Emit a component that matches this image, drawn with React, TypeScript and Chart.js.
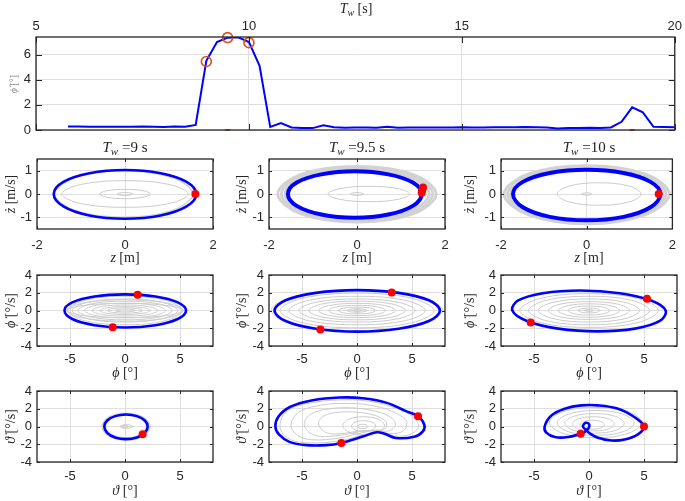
import React, { useEffect, useRef } from "react";
import { Chart, registerables } from "chart.js";
Chart.register(...registerables);

type P = [number, number];

// ---------- top panel: amplitude vs wave period ----------
const twValues = [5.75, 6, 6.25, 6.5, 6.75, 7, 7.25, 7.5, 7.75, 8, 8.25, 8.5, 8.75, 9, 9.25, 9.5, 9.75, 10, 10.25, 10.5, 10.75, 11, 11.25, 11.5, 11.75, 12, 12.25, 12.5, 12.75, 13, 13.25, 13.5, 13.75, 14, 14.25, 14.5, 14.75, 15, 15.25, 15.5, 15.75, 16, 16.25, 16.5, 16.75, 17, 17.25, 17.5, 17.75, 18, 18.25, 18.5, 18.75, 19, 19.25, 19.5, 19.75, 20];
const phiAmp = [0.28, 0.28, 0.26, 0.25, 0.25, 0.26, 0.26, 0.27, 0.25, 0.24, 0.27, 0.25, 0.4, 5.5, 7.0, 7.35, 7.38, 7.0, 5.1, 0.25, 0.55, 0.2, 0.15, 0.15, 0.38, 0.22, 0.18, 0.2, 0.2, 0.18, 0.25, 0.18, 0.2, 0.2, 0.2, 0.2, 0.2, 0.22, 0.2, 0.2, 0.22, 0.22, 0.22, 0.23, 0.22, 0.2, 0.12, 0.15, 0.16, 0.17, 0.16, 0.2, 0.65, 1.8, 1.4, 0.25, 0.23, 0.22];
const markedTw: P[] = [[9, 5.45], [9.5, 7.35], [10, 6.95]];
const redTicksTw: P[] = [[9.5, 0], [19, 0]];
const topXTicks = [5, 10, 15, 20];
const topYTicks = [0, 2, 4, 6];

// ---------- row 1: heave z / z-dot ----------
const zXTicks = [-2, 0, 2];
const zYTicks = [-1, 0, 1];
const z9Blue: P[] = [[1.62, 0], [1.4, 0.52], [0.81, 0.89], [0, 1.03], [-0.81, 0.89], [-1.4, 0.52], [-1.62, 0], [-1.4, -0.53], [-0.81, -0.92], [0, -1.06], [0.81, -0.92], [1.4, -0.53]];
const z9Red: P[] = [[1.6, 0]];
const z9Band: P[][] = [
  [[1.54, 0], [1.08, 0.71], [-0.03, 1.0], [-1.14, 0.71], [-1.6, 0], [-1.14, -0.71], [-0.03, -1.0], [1.08, -0.71]],
];
const z9Gray: P[][] = [
  [[1.44, 0], [1.02, 0.4], [0, 0.57], [-1.02, 0.4], [-1.44, 0], [-1.02, -0.4], [0, -0.57], [1.02, -0.4]],
  [[0.58, 0], [0.41, 0.14], [0, 0.2], [-0.41, 0.14], [-0.58, 0], [-0.41, -0.14], [0, -0.2], [0.41, -0.14]],
  [[0.18, 0], [0.13, 0.04], [0, 0.06], [-0.13, 0.04], [-0.18, 0], [-0.13, -0.04], [0, -0.06], [0.13, -0.04]],
];
const z95Blue: P[] = [[1.47, 0], [1.27, 0.49], [0.71, 0.84], [-0.05, 0.97], [-0.81, 0.84], [-1.37, 0.49], [-1.57, 0], [-1.37, -0.51], [-0.81, -0.88], [-0.05, -1.02], [0.71, -0.88], [1.27, -0.51]];
const z95Red: P[] = [[1.5, 0.28], [1.48, 0.15], [1.47, 0.05]];
const z95Band: P[][] = [
  [[1.8, 0], [1.27, 0.84], [0, 1.18], [-1.27, 0.84], [-1.8, 0], [-1.27, -0.85], [0, -1.2], [1.27, -0.85]],
  [[1.72, 0], [1.22, 0.8], [0, 1.12], [-1.22, 0.8], [-1.72, 0], [-1.22, -0.81], [0, -1.14], [1.22, -0.81]],
  [[1.64, 0], [1.16, 0.75], [0, 1.06], [-1.16, 0.75], [-1.64, 0], [-1.16, -0.76], [0, -1.08], [1.16, -0.76]],
];
const z95Gray: P[][] = [
  [[1.2, 0], [0.93, 0.23], [0.27, 0.33], [-0.39, 0.23], [-0.66, 0], [-0.39, -0.23], [0.27, -0.33], [0.93, -0.23]],
  [[0.15, 0], [0.1, 0.04], [0, 0.06], [-0.1, 0.04], [-0.15, 0], [-0.1, -0.04], [0, -0.06], [0.1, -0.04]],
];
const z10Blue: P[] = [[1.72, 0], [1.49, 0.52], [0.86, 0.9], [0, 1.04], [-0.86, 0.9], [-1.49, 0.52], [-1.72, 0], [-1.49, -0.57], [-0.86, -0.98], [0, -1.13], [0.86, -0.98], [1.49, -0.57]];
const z10Red: P[] = [[1.68, 0]];
const z10Band: P[][] = [
  [[1.93, 0], [1.36, 0.86], [0, 1.22], [-1.36, 0.86], [-1.93, 0], [-1.36, -0.9], [0, -1.28], [1.36, -0.9]],
  [[1.85, 0], [1.31, 0.81], [0, 1.15], [-1.31, 0.81], [-1.85, 0], [-1.31, -0.85], [0, -1.2], [1.31, -0.85]],
  [[1.78, 0], [1.26, 0.76], [0, 1.08], [-1.26, 0.76], [-1.78, 0], [-1.26, -0.8], [0, -1.16], [1.26, -0.8]],
];
const z10Gray: P[][] = [
  [[1.27, 0], [0.99, 0.34], [0.29, 0.48], [-0.41, 0.34], [-0.69, 0], [-0.41, -0.34], [0.29, -0.48], [0.99, -0.34]],
  [[0.13, 0], [0.09, 0.035], [0, 0.05], [-0.09, 0.035], [-0.13, 0], [-0.09, -0.035], [0, -0.05], [0.09, -0.035]],
];

// ---------- rows 2-3 ticks ----------
const angXTicks = [-5, 0, 5];
const angYTicks = [-4, -2, 0, 2, 4];

// ---------- row 2: roll phi / phi-dot ----------
const p9Blue: P[] = [[5.55, 0], [4.79, 0.91], [2.77, 1.58], [0, 1.82], [-2.77, 1.58], [-4.79, 0.91], [-5.5, 0], [-4.79, -0.96], [-2.77, -1.66], [0, -1.92], [2.77, -1.66], [4.79, -0.96]];
const p9Red: P[] = [[1.15, 1.78], [-1.12, -1.88]];
const p9Gray: P[][] = [
  [[5.2, 0], [3.69, 1.14], [0, 1.6], [-3.69, 1.14], [-5.2, 0], [-3.69, -1.14], [0, -1.6], [3.69, -1.14]],
  [[5.3, 0], [3.76, 0.85], [0, 1.2], [-3.76, 0.85], [-5.3, 0], [-3.76, -0.85], [0, -1.2], [3.76, -0.85]],
  [[4.8, 0], [3.41, 0.92], [0, 1.3], [-3.41, 0.92], [-4.8, 0], [-3.41, -0.92], [0, -1.3], [3.41, -0.92]],
  [[5.3, 0], [3.76, 0.57], [0, 0.8], [-3.76, 0.57], [-5.3, 0], [-3.76, -0.57], [0, -0.8], [3.76, -0.57]],
  [[4.3, 0], [3.05, 0.75], [0, 1.05], [-3.05, 0.75], [-4.3, 0], [-3.05, -0.75], [0, -1.05], [3.05, -0.75]],
  [[3.7, 0], [2.63, 0.58], [0, 0.82], [-2.63, 0.58], [-3.7, 0], [-2.63, -0.58], [0, -0.82], [2.63, -0.58]],
  [[3.0, 0], [2.13, 0.44], [0, 0.62], [-2.13, 0.44], [-3.0, 0], [-2.13, -0.44], [0, -0.62], [2.13, -0.44]],
  [[2.3, 0], [1.63, 0.31], [0, 0.44], [-1.63, 0.31], [-2.3, 0], [-1.63, -0.31], [0, -0.44], [1.63, -0.31]],
  [[1.6, 0], [1.14, 0.21], [0, 0.3], [-1.14, 0.21], [-1.6, 0], [-1.14, -0.21], [0, -0.3], [1.14, -0.21]],
  [[0.9, 0], [0.64, 0.11], [0, 0.16], [-0.64, 0.11], [-0.9, 0], [-0.64, -0.11], [0, -0.16], [0.64, -0.11]],
];
const p95Blue: P[] = [[7.54, 0], [6.53, 1.15], [3.78, 1.99], [0.02, 2.3], [-3.74, 1.99], [-6.49, 1.15], [-7.5, 0], [-6.49, -1.19], [-3.74, -2.06], [0.02, -2.38], [3.78, -2.06], [6.53, -1.19]];
const p95Red: P[] = [[3.15, 2.04], [-3.33, -2.15]];
const p95Gray: P[][] = [
  [[7.8, 0], [5.54, 1.63], [0, 2.3], [-5.54, 1.63], [-7.8, 0], [-5.54, -1.66], [0, -2.35], [5.54, -1.66]],
  [[7.0, 0], [4.97, 1.38], [0, 1.95], [-4.97, 1.38], [-7.0, 0], [-4.97, -1.38], [0, -1.95], [4.97, -1.38]],
  [[6.2, 0], [4.4, 1.14], [0, 1.6], [-4.4, 1.14], [-6.2, 0], [-4.4, -1.14], [0, -1.6], [4.4, -1.14]],
  [[5.3, 0], [3.76, 0.92], [0, 1.3], [-3.76, 0.92], [-5.3, 0], [-3.76, -0.92], [0, -1.3], [3.76, -0.92]],
  [[4.4, 0], [3.12, 0.75], [0, 1.05], [-3.12, 0.75], [-4.4, 0], [-3.12, -0.75], [0, -1.05], [3.12, -0.75]],
  [[3.5, 0], [2.49, 0.57], [0, 0.8], [-2.49, 0.57], [-3.5, 0], [-2.49, -0.57], [0, -0.8], [2.49, -0.57]],
  [[2.6, 0], [1.85, 0.41], [0, 0.58], [-1.85, 0.41], [-2.6, 0], [-1.85, -0.41], [0, -0.58], [1.85, -0.41]],
  [[1.7, 0], [1.21, 0.27], [0, 0.38], [-1.21, 0.27], [-1.7, 0], [-1.21, -0.27], [0, -0.38], [1.21, -0.27]],
  [[0.9, 0], [0.64, 0.14], [0, 0.2], [-0.64, 0.14], [-0.9, 0], [-0.64, -0.14], [0, -0.2], [0.64, -0.14]],
  [[0.4, 0], [0.28, 0.07], [0, 0.1], [-0.28, 0.07], [-0.4, 0], [-0.28, -0.07], [0, -0.1], [0.28, -0.07]],
];
const p10Blue: P[] = [[6.97, 0], [5.64, 1.13], [2.8, 1.95], [-0.8, 2.25], [-4.18, 1.95], [-6.44, 1.13], [-6.97, 0], [-5.64, -1.18], [-2.8, -2.04], [0.8, -2.35], [4.18, -2.04], [6.44, -1.18]];
const p10Red: P[] = [[5.27, 1.31], [-5.3, -1.35]];
const p10Gray: P[][] = [
  [[6.3, 0], [4.47, 1.35], [0, 1.9], [-4.47, 1.35], [-6.3, 0], [-4.47, -1.35], [0, -1.9], [4.47, -1.35]],
  [[5.5, 0], [3.9, 1.14], [0, 1.6], [-3.9, 1.14], [-5.5, 0], [-3.9, -1.14], [0, -1.6], [3.9, -1.14]],
  [[4.6, 0], [3.27, 0.92], [0, 1.3], [-3.27, 0.92], [-4.6, 0], [-3.27, -0.92], [0, -1.3], [3.27, -0.92]],
  [[3.7, 0], [2.63, 0.71], [0, 1.0], [-2.63, 0.71], [-3.7, 0], [-2.63, -0.71], [0, -1.0], [2.63, -0.71]],
  [[2.8, 0], [1.99, 0.53], [0, 0.75], [-1.99, 0.53], [-2.8, 0], [-1.99, -0.53], [0, -0.75], [1.99, -0.53]],
  [[1.9, 0], [1.35, 0.36], [0, 0.5], [-1.35, 0.36], [-1.9, 0], [-1.35, -0.36], [0, -0.5], [1.35, -0.36]],
  [[1.0, 0], [0.71, 0.19], [0, 0.27], [-0.71, 0.19], [-1.0, 0], [-0.71, -0.19], [0, -0.27], [0.71, -0.19]],
  [[0.4, 0], [0.28, 0.07], [0, 0.1], [-0.28, 0.07], [-0.4, 0], [-0.28, -0.07], [0, -0.1], [0.28, -0.07]],
];

// ---------- row 3: pitch theta / theta-dot ----------
const t9Blue: P[] = [[2.06, 0], [1.8, 0.68], [1.08, 1.17], [0.09, 1.35], [-0.9, 1.17], [-1.62, 0.68], [-1.88, 0], [-1.62, -0.71], [-0.9, -1.23], [0.09, -1.42], [1.08, -1.23], [1.8, -0.71]];
const t9Red: P[] = [[1.6, -0.88]];
const t9Band: P[][] = [
  [[2.22, 0], [1.6, 1.02], [0.09, 1.45], [-1.42, 1.02], [-2.04, 0], [-1.42, -1.04], [0.09, -1.5], [1.6, -1.04]],
];
const t9Gray: P[][] = [
  [[1.94, 0], [1.4, 0.89], [0.09, 1.25], [-1.22, 0.89], [-1.76, 0], [-1.22, -0.89], [0.09, -1.25], [1.4, -0.89]],
  [[0.7, 0], [0.53, 0.14], [0.12, 0.2], [-0.29, 0.14], [-0.46, 0], [-0.29, -0.14], [0.12, -0.2], [0.53, -0.14]],
  [[0.3, 0], [0.21, 0.07], [0, 0.1], [-0.21, 0.07], [-0.3, 0], [-0.21, -0.07], [0, -0.1], [0.21, -0.07]],
];
const t95Blue: P[] = [[-7.42, 0], [-7.15, 1.1], [-6.1, 2.2], [-4.03, 2.96], [-1.6, 3.27], [0.52, 3.19], [2.64, 2.69], [4.45, 1.73], [5.55, 1.15], [6.12, 0.19], [5.97, -0.58], [5.2, -1.15], [3.55, -1.3], [2.5, -0.82], [1.8, -0.65], [0.6, -1.1], [-1.42, -1.85], [-2.8, -2.1], [-4.6, -2.1], [-6.15, -1.73], [-7.1, -0.9]];
const t95Red: P[] = [[5.55, 1.15], [-1.42, -1.85]];
const t95Gray: P[][] = [
  [[-7.0, 0.1], [-6.3, 1.8], [-4.0, 2.7], [-1.5, 3.0], [0.8, 2.9], [3.0, 2.3], [5.0, 1.2], [5.6, 0.0], [4.8, -0.9], [3.4, -1.05], [2.2, -0.55], [0.5, -0.95], [-1.5, -1.6], [-4.5, -1.85], [-6.3, -1.3]],
  [[-6.0, 0.2], [-5.3, 1.6], [-3.3, 2.4], [-1.0, 2.6], [1.2, 2.4], [3.2, 1.7], [4.5, 0.6], [4.2, -0.5], [3.0, -0.8], [1.9, -0.45], [0.3, -0.75], [-1.6, -1.3], [-4.0, -1.5], [-5.4, -1.0]],
  [[-4.8, 0.3], [-4.2, 1.4], [-2.5, 2.0], [-0.5, 2.1], [1.4, 1.8], [3.0, 1.1], [3.5, 0.2], [2.9, -0.5], [1.7, -0.4], [0.2, -0.6], [-1.6, -1.0], [-3.4, -1.1], [-4.4, -0.6]],
  [[-3.5, 0.3], [-3.0, 1.2], [-1.7, 1.6], [0, 1.6], [1.5, 1.3], [2.6, 0.6], [2.6, -0.2], [1.6, -0.45], [0.2, -0.5], [-1.4, -0.8], [-2.8, -0.7]],
  [[2.5, 0.1], [1.95, 0.81], [0.6, 1.1], [-0.75, 0.81], [-1.3, 0.1], [-0.75, -0.61], [0.6, -0.9], [1.95, -0.61]],
  [[1.7, 0.05], [1.38, 0.48], [0.6, 0.65], [-0.18, 0.48], [-0.5, 0.05], [-0.18, -0.38], [0.6, -0.55], [1.38, -0.38]],
  [[0.95, 0], [0.82, 0.18], [0.5, 0.25], [0.18, 0.18], [0.05, 0], [0.18, -0.18], [0.5, -0.25], [0.82, -0.18]],
];
const t10Blue: P[] = [[-4.03, 0], [-3.42, 1.23], [-2.21, 2.0], [-0.7, 2.38], [0.82, 2.38], [2.64, 2.0], [4.15, 1.04], [5.0, 0], [4.45, -0.88], [3.24, -1.46], [2.03, -1.58], [0.82, -1.27], [0.1, -0.8], [-0.24, -0.42], [-0.55, 0.0], [-0.3, 0.42], [0.03, 0.2], [-0.05, -0.2], [-0.24, -0.42], [-0.45, -0.68], [-0.76, -0.81], [-1.9, -1.19], [-3.1, -1.19], [-3.88, -0.69]];
const t10Red: P[] = [[5.0, 0], [-0.76, -0.81]];
const t10Gray: P[][] = [
  [[4.8, 0.45], [3.58, 1.66], [0.6, 2.15], [-2.38, 1.66], [-3.6, 0.45], [-2.38, -0.76], [0.6, -1.25], [3.58, -0.76]],
  [[4.1, 0.4], [3.09, 1.39], [0.6, 1.8], [-1.89, 1.39], [-2.9, 0.4], [-1.89, -0.59], [0.6, -1.0], [3.09, -0.59]],
  [[3.2, 0.35], [2.42, 1.13], [0.5, 1.45], [-1.42, 1.13], [-2.2, 0.35], [-1.42, -0.43], [0.5, -0.75], [2.42, -0.43]],
  [[2.3, 0.3], [1.75, 0.87], [0.4, 1.1], [-0.95, 0.87], [-1.5, 0.3], [-0.95, -0.27], [0.4, -0.5], [1.75, -0.27]],
  [[1.4, 0.2], [1.08, 0.56], [0.3, 0.7], [-0.48, 0.56], [-0.8, 0.2], [-0.48, -0.16], [0.3, -0.3], [1.08, -0.16]],
];

const periodTitles = ["9", "9.5", "10"];

// ---------- styling / layout ----------
const W = 685;
const H = 501;
const BLUE = "#0000ff";
const RED = "#ff0000";
const GRAY = "#cbcbcb";
const BAND = "#d2d2d2";
const ORANGE = "#d95319";
const AX = "#262626";
const GRID = "#dedede";
const SANS = "'Liberation Sans', Arial, sans-serif";
const SERIF = "'Liberation Serif', 'Times New Roman', serif";

type Seg = { t: string; it?: boolean; sub?: boolean };
type Lbl = { segs: Seg[]; x: number; y: number; size: number; rot?: number; color?: string };
interface Spec {
  box: [number, number, number, number];
  xr: [number, number];
  yr: [number, number];
  xt: number[];
  yt: number[];
  topAxis?: boolean;
  datasets: any[];
  labels: Lbl[];
  xPad: number;
  tickLen: number;
}

const toXY = (pts: P[]) => pts.map(([x, y]) => ({ x, y }));
// closed smooth curve: wrap one point on each side and hide the two wrap segments
const closedLine = (pts: P[], color: string, w: number, order: number) => {
  const n = pts.length;
  const data = toXY([pts[n - 1], ...pts, pts[0], pts[1]]);
  const last = data.length - 1;
  return {
    data,
    showLine: true,
    borderColor: color,
    borderWidth: w,
    pointRadius: 0,
    tension: 0.37,
    order,
    segment: {
      borderColor: (c: any) => (c.p0DataIndex === 0 || c.p1DataIndex === last ? "rgba(0,0,0,0)" : undefined),
    },
  };
};
const grayDs = (rings: P[][], w: number, color: string) => rings.map((r) => closedLine(r, color, w, 3));
const redDs = (pts: P[]) => ({ data: toXY(pts), showLine: false, pointRadius: 4, pointBackgroundColor: RED, backgroundColor: RED, borderWidth: 0, pointBorderWidth: 0, order: 1, clip: false });

function drawRich(ctx: CanvasRenderingContext2D, l: Lbl) {
  ctx.save();
  ctx.translate(l.x, l.y);
  ctx.rotate(l.rot || 0);
  ctx.fillStyle = l.color || AX;
  ctx.textBaseline = "middle";
  ctx.textAlign = "left";
  const fontFor = (s: Seg) => `${s.it ? "italic " : ""}${s.sub ? Math.round(l.size * 0.7) : l.size}px ${SERIF}`;
  let w = 0;
  for (const s of l.segs) {
    ctx.font = fontFor(s);
    w += ctx.measureText(s.t).width;
  }
  let cx = -w / 2;
  for (const s of l.segs) {
    ctx.font = fontFor(s);
    ctx.fillText(s.t, cx, s.sub ? l.size * 0.3 : 0);
    cx += ctx.measureText(s.t).width;
  }
  ctx.restore();
}

function ChartPanel({ spec }: { spec: Spec }) {
  const ref = useRef<HTMLCanvasElement>(null);
  useEffect(() => {
    const [l, t, r, b] = spec.box;
    const YW = 30;
    const XH = 25;
    const padding = spec.topAxis
      ? { left: l - YW, right: W - r, top: t - XH, bottom: H - b }
      : { left: l - YW, right: W - r, top: t, bottom: H - b - XH };
    const decor = {
      id: "decor",
      afterDatasetsDraw(chart: any) {
        const { ctx, chartArea: a, scales } = chart;
        ctx.save();
        ctx.strokeStyle = AX;
        ctx.lineWidth = 1;
        const tl = spec.tickLen;
        ctx.beginPath();
        for (const v of spec.xt) {
          const px = Math.round(scales.x.getPixelForValue(v)) + 0.5;
          ctx.moveTo(px, a.bottom);
          ctx.lineTo(px, a.bottom - tl);
          ctx.moveTo(px, a.top);
          ctx.lineTo(px, a.top + tl);
        }
        for (const v of spec.yt) {
          const py = Math.round(scales.y.getPixelForValue(v)) + 0.5;
          ctx.moveTo(a.left, py);
          ctx.lineTo(a.left + tl, py);
          ctx.moveTo(a.right, py);
          ctx.lineTo(a.right - tl, py);
        }
        ctx.stroke();
        ctx.lineWidth = 1.3;
        ctx.strokeRect(a.left, a.top, a.right - a.left, a.bottom - a.top);
        ctx.restore();
      },
      afterDraw(chart: any) {
        for (const lb of spec.labels) drawRich(chart.ctx, lb);
      },
    };
    const tickFont = { family: SANS, size: 13 };
    const chart = new Chart(ref.current as HTMLCanvasElement, {
      type: "scatter",
      data: { datasets: spec.datasets },
      options: {
        animation: false,
        responsive: false,
        devicePixelRatio: 1,
        events: [],
        layout: { padding },
        plugins: { legend: { display: false }, tooltip: { enabled: false }, title: { display: false } },
        scales: {
          x: {
            type: "linear",
            position: spec.topAxis ? "top" : "bottom",
            min: spec.xr[0],
            max: spec.xr[1],
            afterBuildTicks: (s: any) => {
              s.ticks = spec.xt.map((v) => ({ value: v }));
            },
            afterFit: (s: any) => {
              s.height = XH;
            },
            grid: { color: GRID, lineWidth: 1, drawTicks: false },
            border: { display: false },
            ticks: { padding: spec.xPad, font: tickFont, color: AX, autoSkip: false, maxRotation: 0, callback: (v: any) => String(v) },
          },
          y: {
            type: "linear",
            position: "left",
            min: spec.yr[0],
            max: spec.yr[1],
            afterBuildTicks: (s: any) => {
              s.ticks = spec.yt.map((v) => ({ value: v }));
            },
            afterFit: (s: any) => {
              s.width = YW;
            },
            grid: { color: GRID, lineWidth: 1, drawTicks: false },
            border: { display: false },
            ticks: { padding: 5, font: tickFont, color: AX, autoSkip: false, callback: (v: any) => String(v) },
          },
        },
      } as any,
      plugins: [decor],
    });
    return () => chart.destroy();
  }, [spec]);
  return <canvas ref={ref} width={W} height={H} style={{ position: "absolute", left: 0, top: 0, width: W, height: H }} />;
}

// ---------- panel specs ----------
const colX: [number, number][] = [[37, 213], [269, 445], [501, 677]];
const rowY: [number, number][] = [[159, 229], [275, 346], [391, 462]];
const yLabelX = [11, 242, 470];
const xLabelY = [258, 373, 491];
const xTickPad = [9, 6, 7];

const rowData = [
  { xr: [-2, 2] as [number, number], yr: [-1.5, 1.5] as [number, number], xt: zXTicks, yt: zYTicks,
    xl: [{ t: "z", it: true }, { t: " [m]" }], yl: [{ t: "ż", it: true }, { t: " [m/s]" }],
    panels: [
      { band: z9Band, bandW: 1.5, gray: z9Gray, blue: z9Blue, bw: 2.6, red: z9Red },
      { band: z95Band, bandW: 2.8, gray: z95Gray, blue: z95Blue, bw: 4, red: z95Red },
      { band: z10Band, bandW: 2.8, gray: z10Gray, blue: z10Blue, bw: 4, red: z10Red },
    ] },
  { xr: [-8, 8] as [number, number], yr: [-4, 4] as [number, number], xt: angXTicks, yt: angYTicks,
    xl: [{ t: "ϕ", it: true }, { t: " [°]" }], yl: [{ t: "ϕ̇", it: true }, { t: " [°/s]" }],
    panels: [
      { band: [] as P[][], bandW: 1, gray: p9Gray, blue: p9Blue, bw: 2.6, red: p9Red },
      { band: [] as P[][], bandW: 1, gray: p95Gray, blue: p95Blue, bw: 2.6, red: p95Red },
      { band: [] as P[][], bandW: 1, gray: p10Gray, blue: p10Blue, bw: 2.6, red: p10Red },
    ] },
  { xr: [-8, 8] as [number, number], yr: [-4, 4] as [number, number], xt: angXTicks, yt: angYTicks,
    xl: [{ t: "ϑ", it: true }, { t: " [°]" }], yl: [{ t: "ϑ̇", it: true }, { t: " [°/s]" }],
    panels: [
      { band: t9Band, bandW: 2.5, gray: t9Gray, blue: t9Blue, bw: 2.6, red: t9Red },
      { band: [] as P[][], bandW: 1, gray: t95Gray, blue: t95Blue, bw: 2.6, red: t95Red },
      { band: [] as P[][], bandW: 1, gray: t10Gray, blue: t10Blue, bw: 2.6, red: t10Red },
    ] },
];

const specs: Spec[] = [];
specs.push({
  box: [36, 37, 676, 130],
  xr: [5, 20],
  yr: [0, 7.4],
  xt: topXTicks,
  yt: topYTicks,
  topAxis: true,
  xPad: 3,
  tickLen: 6,
  datasets: [
    { data: toXY(markedTw), showLine: false, pointRadius: 5, pointStyle: "circle", pointBackgroundColor: "rgba(0,0,0,0)", pointBorderColor: ORANGE, pointBorderWidth: 1.6, order: 0, clip: false },
    { data: toXY(redTicksTw), showLine: false, pointRadius: 2.5, pointStyle: "line", pointBorderColor: RED, pointBorderWidth: 1.5, order: 1, clip: false },
    { data: twValues.map((x, i) => ({ x, y: phiAmp[i] })), showLine: true, borderColor: BLUE, borderWidth: 2, pointRadius: 0, tension: 0, order: 2 },
  ],
  labels: [
    { segs: [{ t: "T", it: true }, { t: "w", it: true, sub: true }, { t: " [s]" }], x: 356, y: 9, size: 14 },
    { segs: [{ t: "ϕ̂", it: true }, { t: " [°]" }], x: 14, y: 84, size: 10, rot: -Math.PI / 2, color: "#8a8a8a" },
  ],
});
rowData.forEach((row, ri) => {
  row.panels.forEach((p, ci) => {
    const [l, r] = colX[ci];
    const [t, b] = rowY[ri];
    const labels: Lbl[] = [
      { segs: row.xl, x: (l + r) / 2, y: xLabelY[ri], size: 14 },
      { segs: row.yl, x: yLabelX[ci], y: (t + b) / 2, size: 14, rot: -Math.PI / 2 },
    ];
    if (ri === 0) {
      labels.push({ segs: [{ t: "T", it: true }, { t: "w", it: true, sub: true }, { t: " =" + periodTitles[ci] + " s" }], x: (l + r) / 2, y: 148, size: 15 });
    }
    specs.push({
      box: [l, t, r, b],
      xr: row.xr,
      yr: row.yr,
      xt: row.xt,
      yt: row.yt,
      xPad: xTickPad[ri],
      tickLen: 3,
      datasets: [
        redDs(p.red),
        closedLine(p.blue, BLUE, p.bw, 2),
        ...grayDs(p.band, p.bandW, BAND),
        ...grayDs(p.gray, 1, GRAY),
      ],
      labels,
    });
  });
});

export default function App() {
  return (
    <div style={{ position: "absolute", left: 0, top: 0, width: W, height: H, background: "#fff" }}>
      {specs.map((s, i) => (
        <ChartPanel key={i} spec={s} />
      ))}
    </div>
  );
}
